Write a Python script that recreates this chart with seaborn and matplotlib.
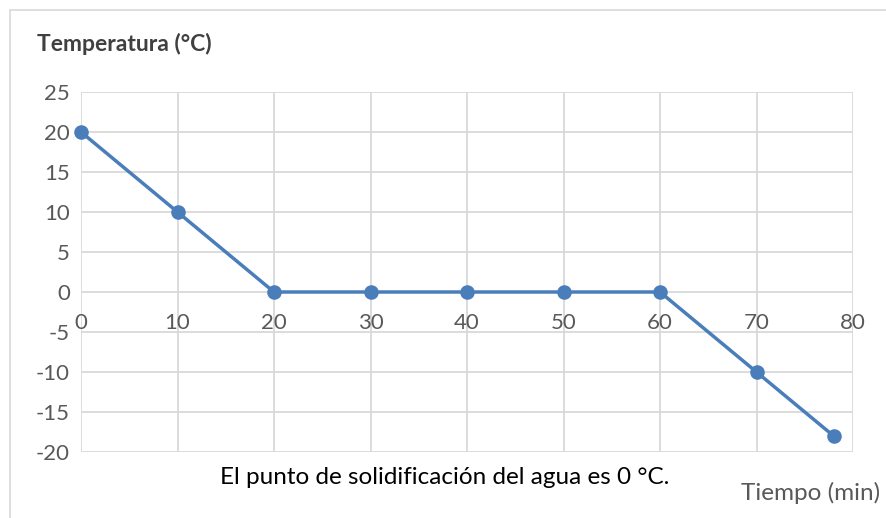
import matplotlib
matplotlib.use("Agg")
import matplotlib.pyplot as plt
import seaborn as sns
import pandas as pd
from matplotlib.patches import Rectangle

tiempo = [0, 10, 20, 30, 40, 50, 60, 70, 78]
temperatura = [20, 10, 0, 0, 0, 0, 0, -10, -18]
x_ticks = [0, 10, 20, 30, 40, 50, 60, 70, 80]
y_ticks = [-20, -15, -10, -5, 0, 5, 10, 15, 20, 25]

sns.set_theme(style="white")
plt.rcParams['font.family'] = ['Lato', 'DejaVu Sans']
plt.rcParams['axes.unicode_minus'] = False

W, H = 886, 518
fig = plt.figure(figsize=(W / 100, H / 100), dpi=100)
ax = fig.add_axes([81 / W, 1 - 452 / H, (853 - 81) / W, (452 - 92) / H])

df = pd.DataFrame({"Tiempo": tiempo, "Temperatura": temperatura})
sns.lineplot(data=df, x="Tiempo", y="Temperatura", ax=ax, color="#4a7ebb",
             linewidth=2.5, marker="o", markersize=10.5, markeredgewidth=0,
             zorder=5, clip_on=False)

ax.set_xlim(0, 80)
ax.set_ylim(-20, 25)
ax.set_xticks(x_ticks)
ax.set_yticks(y_ticks)
ax.grid(True, color="#d9d9d9", linewidth=1.3)
ax.set_axisbelow(True)
for s in ["top", "right", "left"]:
    ax.spines[s].set_visible(False)
ax.spines["bottom"].set_position(("data", 0))
ax.spines["bottom"].set_visible(False)
ax.tick_params(axis="x", length=0, pad=15, labelsize=16, labelcolor="#595959")
ax.tick_params(axis="y", length=0, pad=8, labelsize=16, labelcolor="#595959")
ax.set_xlabel("")
ax.set_ylabel("")

fig.text(37 / W, 1 - 44 / H, "Temperatura (°C)", fontsize=16.5, fontweight="bold",
         color="#404040", ha="left", va="center")
fig.text(445 / W, 1 - 478 / H, "El punto de solidificación del agua es 0 °C.",
         fontsize=17.5, color="black", ha="center", va="center")
fig.text(741 / W, 1 - 493 / H, "Tiempo (min)", fontsize=17.5, color="#595959",
         ha="left", va="center")

fig.patches.append(Rectangle((10 / W, -0.05), 1.2, 1 - 10 / H + 0.05,
                             transform=fig.transFigure, fill=False,
                             edgecolor="#d9d9d9", linewidth=1.2))

fig.savefig("out.png", dpi=100)
